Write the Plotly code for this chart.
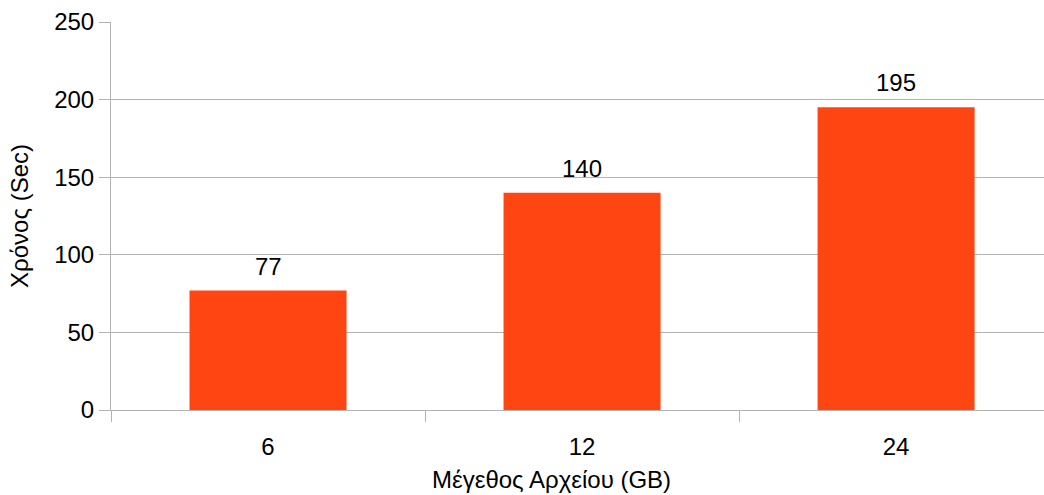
import plotly.graph_objects as go

categories = ["6", "12", "24"]
times = [77, 140, 195]
labels = ["77", "140", "195"]
y_ticks = [0, 50, 100, 150, 200, 250]
x_title = "Μέγεθος Αρχείου (GB)"
y_title = "Χρόνος (Sec)"

BAR = "#ff4512"
GRID = "#b3b3b3"
FONT = "Liberation Sans, Arial, sans-serif"

fig = go.Figure()
fig.add_trace(go.Bar(
    x=categories, y=times,
    marker=dict(color=BAR, line=dict(width=0)), width=0.5,
    hoverinfo="x+y",
))

for i, (v, t) in enumerate(zip(times, labels)):
    fig.add_annotation(
        x=i, y=v, xref="x", yref="y", text=t, showarrow=False,
        yanchor="bottom", yshift=9,
        font=dict(size=24, color="#000000", family=FONT),
    )

fig.add_annotation(
    x=0.4716, y=-0.1804, xref="paper", yref="paper", text=x_title,
    showarrow=False, xanchor="center", yanchor="middle",
    font=dict(size=24, color="#000000", family=FONT),
)

fig.update_layout(
    width=1044, height=495,
    margin=dict(l=111, r=0, t=22, b=85, autoexpand=False),
    paper_bgcolor="white", plot_bgcolor="white",
    font=dict(family=FONT, size=24, color="#000000"),
    showlegend=False,
    xaxis=dict(
        type="category", range=[-0.5, 2.471], automargin=False,
        showgrid=False, showline=True, linecolor=GRID, linewidth=1,
        ticks="outside", ticklen=11, tickcolor=GRID, tickson="boundaries",
        tickfont=dict(size=24), ticklabelstandoff=15,
    ),
    yaxis=dict(
        range=[0, 250], tickvals=y_ticks, automargin=False,
        showgrid=True, gridcolor=GRID, gridwidth=1,
        showline=True, linecolor=GRID, linewidth=1,
        ticks="outside", ticklen=11, tickcolor=GRID,
        tickfont=dict(size=24), zeroline=False,
        title=dict(text=y_title, font=dict(size=24), standoff=18),
    ),
)

fig.write_html(
    "out.html",
    config={"displayModeBar": False},
    post_script="document.body.style.margin='0';document.body.style.overflow='hidden';",
)
